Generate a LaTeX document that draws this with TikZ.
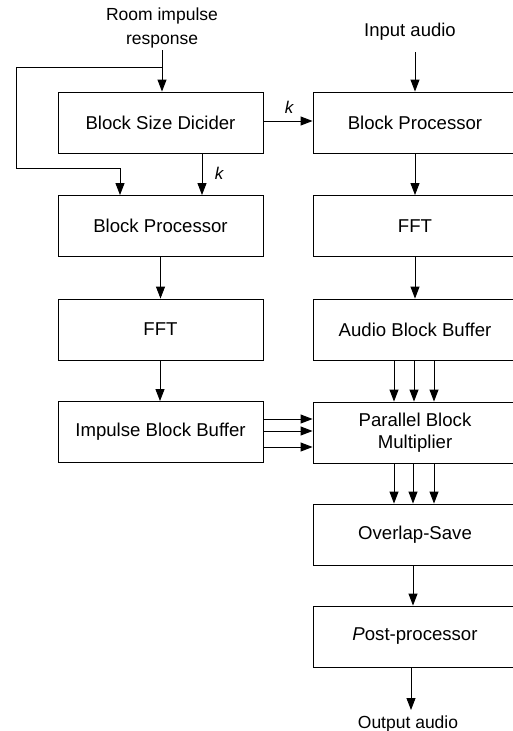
\documentclass[tikz,border=0pt]{standalone}
\usepackage{fontspec}
\setmainfont{Liberation Sans}
\usetikzlibrary{arrows.meta}
\begin{document}
\begin{tikzpicture}[x=1pt,y=-1pt,
  box/.style={draw, line width=0.9pt, minimum width=204pt, minimum height=61pt, inner sep=0pt,
    font=\fontsize{18.6}{21}\selectfont},
  lbl/.style={font=\fontsize{17.5}{24}\selectfont, align=center, inner sep=0pt},
  klbl/.style={font=\fontsize{17}{20}\selectfont\itshape, inner sep=0pt},
  arr/.style={line width=0.9pt, -{Triangle[length=12pt,width=9pt]}},
  ln/.style={line width=0.9pt}]
\useasboundingbox (0,0) rectangle (512,731);
% left column
\node[box, minimum width=205pt] (bsd) at (160.5,122.5) {Block Size Dicider};
\node[box, minimum width=205pt] (bpl) at (160.5,226) {Block Processor};
\node[box, minimum width=205pt] (fftl) at (160.5,329.5) {FFT};
\node[box, minimum width=205pt] (ibb) at (160.5,432) {Impulse Block Buffer};
% right column
\node[box] (bpr) at (415,122.5) {Block Processor};
\node[box] (fftr) at (415,226) {FFT};
\node[box] (abb) at (415,329.5) {Audio Block Buffer};
\node[box, align=center, font=\fontsize{18.6}{22}\selectfont] (pbm) at (415,432.5) {Parallel Block\\Multiplier};
\node[box] (os) at (415,534.5) {Overlap-Save};
\node[box] (pp) at (415,636.5) {\textit{P}ost-processor};
% labels
\node[lbl] (rir) at (162,28) {Room impulse\\response};
\node[lbl, font=\fontsize{18.5}{24}\selectfont] (inp) at (410,32) {Input audio};
\node[lbl] (outp) at (408,724) {Output audio};
\node[klbl] (k1) at (289,107) {k};
\node[klbl] (k2) at (219,173) {k};
% coordinates
\coordinate (rtop) at (162,50);
\coordinate (br) at (162,67);
\coordinate (c1) at (16,67);
\coordinate (c2) at (16,168);
\coordinate (c3) at (120,168);
\coordinate (itop) at (415,52);
\coordinate (oend) at (411,710);
% connectors
\draw[arr] (rtop) -- ([xshift=1.5pt]bsd.north);
\draw[arr] (br) -- (c1) -- (c2) -- (c3) -- ([xshift=-40.5pt]bpl.north);
\draw[arr] ([xshift=41.5pt]bsd.south) -- ([xshift=41.5pt]bpl.north);
\draw[arr] ([yshift=1.5pt]bsd.east) -- ([yshift=1.5pt]bpr.west);
\draw[arr] (itop) -- (bpr.north);
\draw[arr] (bpr) -- (fftr);
\draw[arr] (fftr) -- (abb);
\draw[arr] (bpl) -- (fftl);
\draw[arr] ([xshift=-0.5pt]fftl.south) -- ([xshift=-0.5pt]ibb.north);
\foreach \dx in {-21,-1,19}{
  \draw[arr] ([xshift=\dx pt]abb.south) -- ([xshift=\dx pt]pbm.north);
}
\foreach \dx in {-21,-2,19}{
  \draw[arr] ([xshift=\dx pt]pbm.south) -- ([xshift=\dx pt]os.north);
}
\foreach \dy in {13,1,-15}{
  \draw[arr] ([yshift=\dy pt]ibb.east) -- ([yshift=\dy pt]ibb.east -| pbm.west);
}
\draw[arr] ([xshift=-2pt]os.south) -- ([xshift=-2pt]pp.north);
\draw[arr] ([xshift=-4pt]pp.south) -- (oend);
\end{tikzpicture}
\end{document}
